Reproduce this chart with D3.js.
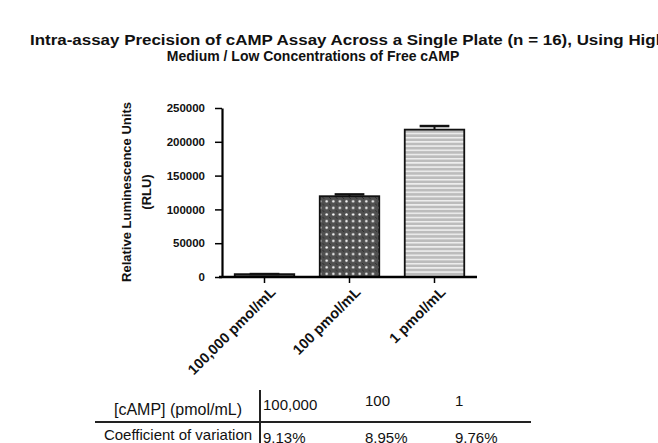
<!DOCTYPE html>
<html>
<head>
<meta charset="utf-8">
<script src="https://cdn.jsdelivr.net/npm/d3@7"></script>
<style>
  body { margin: 0; background: #fff; }
  svg text { font-family: "Liberation Sans", Arial, sans-serif; fill: #111; }
</style>
</head>
<body>
<div id="chart"></div>
<script>
// data
const categories = ['100,000 pmol/mL', '100 pmol/mL', '1 pmol/mL'];
const meanRLU = [4200, 119500, 218000];
const semRLU = [150, 2700, 5300];
const yTicks = [0, 50000, 100000, 150000, 200000, 250000];
const titleLines = ['Intra-assay Precision of cAMP Assay Across a Single Plate (n = 16), Using High',
                    'Medium / Low Concentrations of Free cAMP'];
const yLabelLines = ['Relative Luminescence Units', '(RLU)'];
const tableRowLabels = ['[cAMP] (pmol/mL)', 'Coefficient of variation'];
const concValues = ['100,000', '100', '1'];
const cvValues = ['9.13%', '8.95%', '9.76%'];

// canvas
const width = 658, height = 443;
const plot = {left: 222, right: 477, top: 108, bottom: 277};

var svg = d3.select('#chart')
  .append('svg')
    .attr('width', width)
    .attr('height', height);

// fill patterns
var defs = svg.append('defs');
var dots = defs.append('pattern')
  .attr('id', 'dots')
  .attr('patternUnits', 'userSpaceOnUse')
  .attr('width', 6.6).attr('height', 6.6);
dots.append('rect').attr('width', 6.6).attr('height', 6.6).attr('fill', '#505050');
dots.append('circle').attr('cx', 3.3).attr('cy', 3.3).attr('r', 1.2).attr('fill', '#fff');
dots.append('circle').attr('cx', 0).attr('cy', 0).attr('r', 0.9).attr('fill', '#1c1c1c');
dots.append('circle').attr('cx', 6.6).attr('cy', 6.6).attr('r', 0.9).attr('fill', '#1c1c1c');

var stripes = defs.append('pattern')
  .attr('id', 'stripes')
  .attr('patternUnits', 'userSpaceOnUse')
  .attr('width', 8).attr('height', 4.2);
stripes.append('rect').attr('width', 8).attr('height', 4.2).attr('fill', '#bcbcbc');
stripes.append('rect').attr('y', 2.6).attr('width', 8).attr('height', 1.4).attr('fill', '#f4f4f4');

const barFills = ['#4f4f4f', 'url(#dots)', 'url(#stripes)'];

// scales
var x = d3.scaleBand()
  .domain(categories)
  .range([plot.left, plot.right])
  .paddingInner(0.3)
  .paddingOuter(0.15);
var y = d3.scaleLinear()
  .domain([0, 250000])
  .range([plot.bottom, plot.top]);

var rows = categories.map((c, i) => ({name: c, value: meanRLU[i], sem: semRLU[i], fill: barFills[i]}));

// title (first line runs off the right edge, as in the source)
svg.append('text')
  .attr('x', 30).attr('y', 45)
  .attr('textLength', 636).attr('lengthAdjust', 'spacingAndGlyphs')
  .style('font-size', '14px').style('font-weight', 'bold')
  .text(titleLines[0]);
svg.append('text')
  .attr('x', 313).attr('y', 61)
  .style('text-anchor', 'middle')
  .style('font-size', '14px').style('font-weight', 'bold')
  .text(titleLines[1]);

// y axis
var yAxis = svg.append('g')
  .attr('transform', `translate(${plot.left}, 0)`)
  .call(d3.axisLeft(y).tickValues(yTicks).tickSize(7).tickSizeOuter(0).tickPadding(10).tickFormat(d3.format('d')));
yAxis.select('.domain').attr('stroke-width', 2.2);
yAxis.selectAll('.tick line').attr('stroke-width', 1.5);
yAxis.selectAll('.tick text')
  .style('font-size', '11.5px').style('font-weight', 'bold')
  .attr('font-family', null);

// y label
svg.selectAll('text.yLabel')
  .data(yLabelLines)
  .enter()
  .append('text')
  .attr('class', 'yLabel')
  .attr('transform', (d, i) => `translate(${131 + i * 20}, ${192}) rotate(-90)`)
  .style('text-anchor', 'middle')
  .style('font-size', '13px').style('font-weight', 'bold')
  .text(d => d);

// bars
svg.selectAll('rect.bar')
  .data(rows, d => d.name)
  .enter()
  .append('rect')
  .attr('class', 'bar')
  .attr('x', d => x(d.name))
  .attr('y', d => y(d.value))
  .attr('width', x.bandwidth())
  .attr('height', d => y(0) - y(d.value))
  .attr('fill', d => d.fill)
  .attr('stroke', '#111')
  .attr('stroke-width', 1.8);

// error bars (upper)
var capW = x.bandwidth() * 0.5;
svg.selectAll('line.errStem')
  .data(rows)
  .enter()
  .append('line')
  .attr('x1', d => x(d.name) + x.bandwidth() / 2)
  .attr('x2', d => x(d.name) + x.bandwidth() / 2)
  .attr('y1', d => y(d.value))
  .attr('y2', d => y(d.value + d.sem))
  .attr('stroke', '#111').attr('stroke-width', 2);
svg.selectAll('line.errCap')
  .data(rows)
  .enter()
  .append('line')
  .attr('x1', d => x(d.name) + x.bandwidth() / 2 - capW / 2)
  .attr('x2', d => x(d.name) + x.bandwidth() / 2 + capW / 2)
  .attr('y1', d => y(d.value + d.sem))
  .attr('y2', d => y(d.value + d.sem))
  .attr('stroke', '#111').attr('stroke-width', 2.5);

// x axis
var xAxis = svg.append('g')
  .attr('transform', `translate(0, ${plot.bottom})`)
  .call(d3.axisBottom(x).tickSize(6).tickSizeOuter(0));
xAxis.select('.domain').attr('stroke-width', 2.4).attr('d', `M${plot.left - 3},0H${plot.right}`);
xAxis.selectAll('.tick line').attr('stroke-width', 1.5);
xAxis.selectAll('.tick text')
  .attr('font-family', null)
  .style('font-size', '14.5px').style('font-weight', 'bold')
  .style('text-anchor', 'end')
  .attr('x', 0).attr('y', 0).attr('dy', null)
  .attr('transform', 'translate(12, 16) rotate(-45)');

// table
var tableCol = d3.scaleOrdinal().domain(concValues.map((d, i) => i)).range([263, 365, 455]);
var table = svg.append('g').attr('class', 'table');
table.append('line')
  .attr('x1', 95).attr('x2', 531).attr('y1', 422).attr('y2', 422)
  .attr('stroke', '#222').attr('stroke-width', 2);
table.append('line')
  .attr('x1', 260).attr('x2', 260).attr('y1', 390).attr('y2', height)
  .attr('stroke', '#222').attr('stroke-width', 2);
table.selectAll('text.rowLabel')
  .data(tableRowLabels)
  .enter()
  .append('text')
  .attr('class', 'rowLabel')
  .attr('x', 178)
  .attr('y', (d, i) => 415 + i * 25)
  .style('text-anchor', 'middle')
  .style('font-size', (d, i) => i == 0 ? '16px' : '15px')
  .text(d => d);
table.selectAll('text.conc')
  .data(concValues)
  .enter()
  .append('text')
  .attr('class', 'conc')
  .attr('x', (d, i) => tableCol(i))
  .attr('y', (d, i) => i == 0 ? 410 : 406)
  .style('font-size', '15px')
  .text(d => d);
table.selectAll('text.cv')
  .data(cvValues)
  .enter()
  .append('text')
  .attr('class', 'cv')
  .attr('x', (d, i) => tableCol(i))
  .attr('y', 443)
  .style('font-size', '15px')
  .text(d => d);
</script>
</body>
</html>
